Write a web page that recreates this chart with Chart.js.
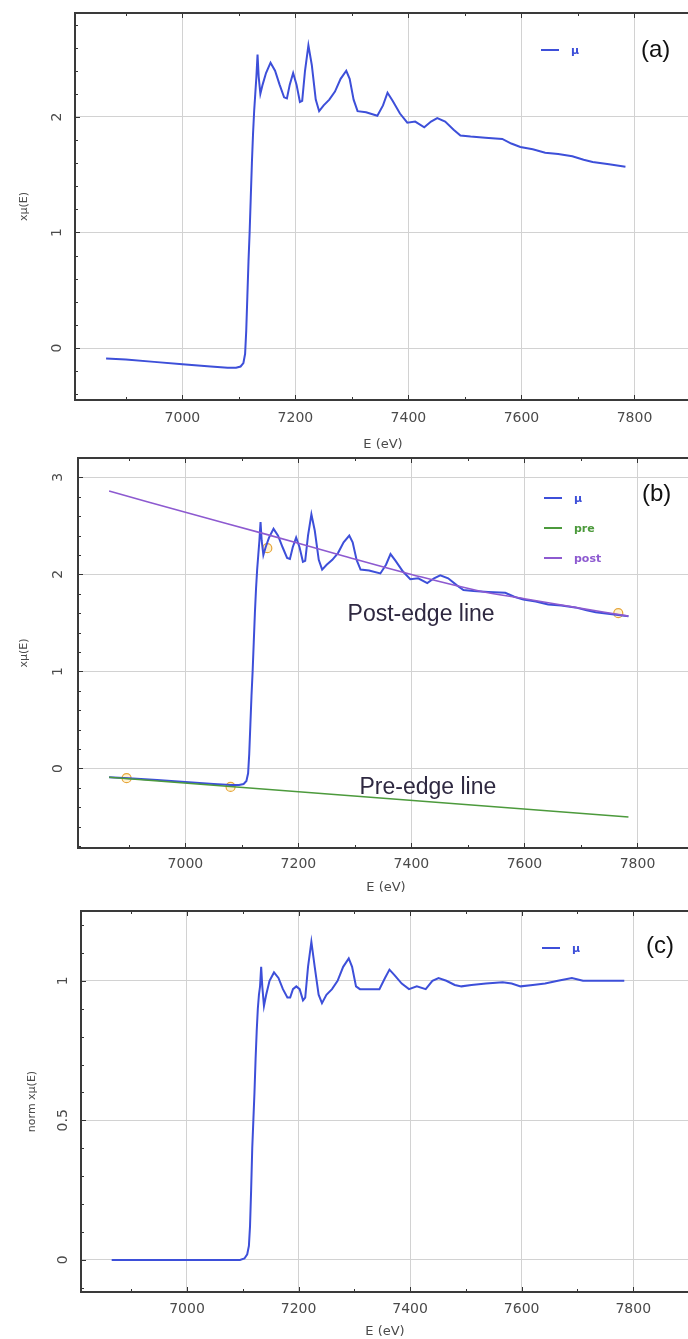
<!DOCTYPE html>
<html>
<head>
<meta charset="utf-8">
<script src="https://cdn.jsdelivr.net/npm/chart.js@4.4.1/dist/chart.umd.min.js"></script>
<style>
  html, body { margin: 0; padding: 0; background: #fff; }
  #page { position: relative; width: 688px; height: 1339px; overflow: hidden; background: #fff; }
  .panel { position: absolute; left: 0; width: 700px; }
</style>
</head>
<body>
<div id="page">
  <div class="panel" style="top:0px;height:452px"><canvas id="chart-a" width="700" height="452"></canvas></div>
  <div class="panel" style="top:452px;height:447px"><canvas id="chart-b" width="700" height="447"></canvas></div>
  <div class="panel" style="top:899px;height:440px"><canvas id="chart-c" width="700" height="440"></canvas></div>
</div>
<script>
// energy grid (eV)
const energy = [6865, 6900, 6950, 7000, 7050, 7080, 7095, 7103, 7108, 7111, 7113, 7115, 7117, 7119,
  7121, 7123, 7125, 7127, 7129, 7131, 7133, 7135, 7138, 7142, 7148, 7156, 7164, 7172, 7180, 7185,
  7190, 7196, 7202, 7208, 7212, 7217, 7223, 7229, 7236, 7242, 7250, 7260, 7270, 7280, 7290, 7296,
  7303, 7310, 7325, 7345, 7355, 7363, 7372, 7385, 7398, 7412, 7428, 7440, 7451, 7465, 7480, 7492,
  7510, 7536, 7566, 7582, 7598, 7620, 7642, 7665, 7690, 7710, 7726, 7755, 7784]

// x*mu(E), panels (a) and (b)
const mu = [-0.09, -0.10, -0.12, -0.14, -0.16, -0.17, -0.17, -0.16, -0.13, -0.05, 0.15, 0.45, 0.75, 1.0,
  1.3, 1.6, 1.85, 2.05, 2.2, 2.35, 2.54, 2.35, 2.2, 2.28, 2.38, 2.47, 2.4, 2.28, 2.17, 2.16,
  2.28, 2.38, 2.28, 2.13, 2.14, 2.4, 2.62, 2.45, 2.15, 2.05, 2.1, 2.15, 2.22, 2.33, 2.4, 2.33,
  2.15, 2.05, 2.04, 2.01, 2.1, 2.21, 2.14, 2.03, 1.95, 1.96, 1.91, 1.96, 1.99, 1.96, 1.89, 1.84,
  1.83, 1.82, 1.81, 1.77, 1.74, 1.72, 1.69, 1.68, 1.66, 1.63, 1.61, 1.59, 1.57]

// normalized x*mu(E), panel (c)
const muNorm = [0, 0, 0, 0, 0, 0, 0, 0.005, 0.02, 0.05, 0.12, 0.25, 0.4, 0.5,
  0.6, 0.72, 0.82, 0.9, 0.95, 0.98, 1.05, 0.98, 0.91, 0.95, 1.0, 1.03, 1.01, 0.97, 0.94, 0.94,
  0.97, 0.98, 0.97, 0.93, 0.94, 1.05, 1.14, 1.05, 0.95, 0.92, 0.95, 0.97, 1.0, 1.05, 1.08, 1.05,
  0.98, 0.97, 0.97, 0.97, 1.01, 1.04, 1.02, 0.99, 0.97, 0.98, 0.97, 1.0, 1.01, 1.0, 0.985, 0.98,
  0.985, 0.99, 0.995, 0.99, 0.98, 0.985, 0.99, 1.0, 1.01, 1.0, 1.0, 1.0, 1.0]

// pre-edge line (straight)
const preEnergy = [6865, 7784]
const preLine = [-0.09, -0.50]

// post-edge line (slightly curved)
const postEnergy = [6865, 7000, 7145, 7280, 7400, 7520, 7600, 7700, 7784]
const postLine = [2.86, 2.64, 2.41, 2.19, 2.0, 1.83, 1.75, 1.65, 1.57]

// fit-range markers
const markerEnergy = [6896, 7080, 7145, 7766]
const markerValue = [-0.10, -0.19, 2.27, 1.60]

const xTicks = [7000, 7200, 7400, 7600, 7800]
const yTicksA = [0, 1, 2]
const yTicksB = [0, 1, 2, 3]
const yTicksC = [0, 0.5, 1]

const BLUE = '#3d4fd9'
const GREEN = '#4c9a3c'
const PURPLE = '#8d5ad0'
const TEXT = '#4a4a4a'

const toPoints = (xs, ys) => xs.map((x, i) => ({ x, y: ys[i] }))

const framePlugin = {
  id: 'frame',
  afterDraw(chart, args, opts) {
    const { ctx, chartArea: a, scales: { x, y } } = chart
    const seg = (x1, y1, x2, y2) => {
      ctx.beginPath(); ctx.moveTo(x1, y1); ctx.lineTo(x2, y2); ctx.stroke()
    }
    ctx.save()
    ctx.strokeStyle = '#333'
    ctx.lineWidth = 1
    for (let v = 6900; v <= 7800; v += 100) {
      const px = Math.round(x.getPixelForValue(v)) + 0.5
      const len = v % 200 === 0 ? 5 : 3
      seg(px, a.bottom, px, a.bottom - len)
      seg(px, a.top, px, a.top + len)
    }
    const st = opts.minor
    for (let i = Math.ceil(y.min / st); i * st <= y.max; i++) {
      const v = i * st
      const py = Math.round(y.getPixelForValue(v)) + 0.5
      const major = opts.yTicks.some((t) => Math.abs(t - v) < 1e-6)
      seg(a.left, py, a.left + (major ? 5 : 3), py)
    }
    ctx.lineWidth = 2
    ctx.strokeStyle = '#3a3a3a'
    ctx.strokeRect(a.left, a.top, a.right - a.left, a.bottom - a.top)

    // rotated y tick labels
    ctx.fillStyle = TEXT
    ctx.font = '14px "DejaVu Sans"'
    ctx.textAlign = 'center'
    ctx.textBaseline = 'middle'
    opts.yTicks.forEach((v) => {
      ctx.save()
      ctx.translate(opts.yLabelX, y.getPixelForValue(v))
      ctx.rotate(-Math.PI / 2)
      ctx.fillText(String(v), 0, 0)
      ctx.restore()
    })

    // legend
    ctx.textAlign = 'left'
    opts.legend.items.forEach((item, i) => {
      const ly = opts.legend.y + i * opts.legend.gap
      ctx.strokeStyle = item.color
      ctx.lineWidth = 2
      seg(opts.legend.x, ly, opts.legend.x + 18, ly)
      ctx.fillStyle = item.color
      ctx.font = 'bold 11px "DejaVu Sans"'
      ctx.fillText(item.label, opts.legend.x + 30, ly + 1)
    })

    // annotations
    ctx.fillStyle = '#2e2840'
    ctx.font = '23px "Liberation Sans"'
    ctx.textBaseline = 'alphabetic'
    ;(opts.notes || []).forEach((n) => {
      ctx.fillText(n.text, x.getPixelForValue(n.e), y.getPixelForValue(n.v))
    })

    // panel tag
    ctx.fillStyle = '#111'
    ctx.font = '24px "Liberation Sans"'
    ctx.textBaseline = 'middle'
    ctx.fillText(opts.tag.text, opts.tag.x, opts.tag.y)
    ctx.restore()
  }
}

const makeChart = (id, cfg) => {
  new Chart(document.getElementById(id), {
    type: 'line',
    data: { datasets: cfg.datasets },
    options: {
      responsive: false,
      animation: false,
      layout: { padding: { left: 0, right: 700 - cfg.right, top: cfg.top, bottom: 0 } },
      plugins: {
        legend: { display: false },
        tooltip: { enabled: false },
        frame: cfg.frame
      },
      elements: { point: { radius: 0 }, line: { borderWidth: 2, tension: 0 } },
      scales: {
        x: {
          type: 'linear',
          min: 6810,
          max: 7900,
          afterBuildTicks: (s) => { s.ticks = xTicks.map((value) => ({ value })) },
          afterFit: (s) => { s.height = cfg.xHeight },
          grid: { color: '#d2d2d2', drawTicks: false },
          border: { display: false },
          ticks: {
            color: TEXT,
            font: { family: 'DejaVu Sans', size: 14 },
            padding: cfg.xPad,
            maxRotation: 0,
            callback: (value) => String(value)
          },
          title: {
            display: true,
            text: 'E (eV)',
            color: TEXT,
            font: { family: 'DejaVu Sans', size: 13 },
            padding: { top: 0, bottom: cfg.titlePad }
          }
        },
        y: {
          type: 'linear',
          min: cfg.yMin,
          max: cfg.yMax,
          afterBuildTicks: (s) => { s.ticks = cfg.frame.yTicks.map((value) => ({ value })) },
          afterFit: (s) => { s.width = cfg.left },
          grid: { color: '#d2d2d2', drawTicks: false },
          border: { display: false },
          ticks: { display: false },
          title: {
            display: true,
            text: cfg.yTitle,
            color: TEXT,
            font: { family: 'DejaVu Sans', size: 11 },
            padding: { top: cfg.yTitlePad, bottom: 0 }
          }
        }
      }
    },
    plugins: [framePlugin]
  })
}

makeChart('chart-a', {
  top: 13, left: 75, right: 691, xHeight: 52, xPad: 10, titlePad: 0,
  yMin: -0.45, yMax: 2.9, yTitle: 'xμ(E)', yTitlePad: 18,
  datasets: [{ label: 'μ', data: toPoints(energy, mu), borderColor: BLUE }],
  frame: {
    minor: 0.2, yTicks: yTicksA, yLabelX: 57,
    legend: { x: 541, y: 50, gap: 0, items: [{ label: 'μ', color: BLUE }] },
    tag: { text: '(a)', x: 641, y: 50 }
  }
})

makeChart('chart-b', {
  top: 6, left: 78, right: 694, xHeight: 51, xPad: 8, titlePad: 4,
  yMin: -0.82, yMax: 3.2, yTitle: 'xμ(E)', yTitlePad: 18,
  datasets: [
    { label: 'post', data: toPoints(postEnergy, postLine), borderColor: PURPLE, borderWidth: 1.6, tension: 0.4 },
    { label: 'pre', data: toPoints(preEnergy, preLine), borderColor: GREEN, borderWidth: 1.6 },
    { label: 'μ', data: toPoints(energy, mu), borderColor: BLUE },
    {
      label: 'markers', data: toPoints(markerEnergy, markerValue), showLine: false,
      pointRadius: 4.5, pointBorderWidth: 1.2, pointBorderColor: '#e6a63a',
      pointBackgroundColor: 'rgba(255, 226, 150, 0.45)'
    }
  ],
  frame: {
    minor: 0.2, yTicks: yTicksB, yLabelX: 58,
    legend: {
      x: 544, y: 46, gap: 30,
      items: [{ label: 'μ', color: BLUE }, { label: 'pre', color: GREEN }, { label: 'post', color: PURPLE }]
    },
    notes: [
      { text: 'Post-edge line', e: 7287, v: 1.52 },
      { text: 'Pre-edge line', e: 7308, v: -0.26 }
    ],
    tag: { text: '(b)', x: 642, y: 42 }
  }
})

makeChart('chart-c', {
  top: 12, left: 81, right: 689, xHeight: 47, xPad: 9, titlePad: 0,
  yMin: -0.115, yMax: 1.25, yTitle: 'norm xμ(E)', yTitlePad: 26,
  datasets: [{ label: 'μ', data: toPoints(energy, muNorm), borderColor: BLUE }],
  frame: {
    minor: 0.1, yTicks: yTicksC, yLabelX: 63,
    legend: { x: 542, y: 49, gap: 0, items: [{ label: 'μ', color: BLUE }] },
    tag: { text: '(c)', x: 646, y: 47 }
  }
})
</script>
</body>
</html>
